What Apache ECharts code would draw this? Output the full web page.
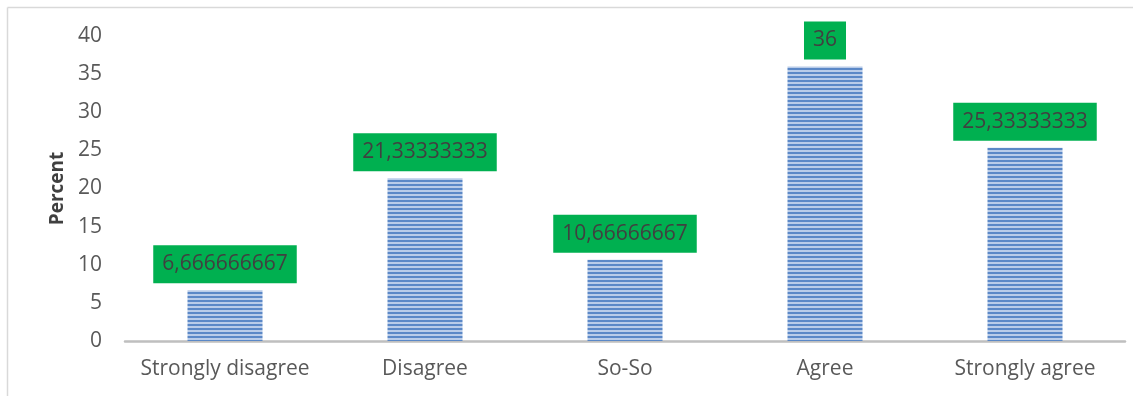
<!DOCTYPE html>
<html>
<head>
<meta charset="utf-8">
<script src="https://cdn.jsdelivr.net/npm/echarts@6/dist/echarts.min.js"></script>
<style>
  html, body { margin: 0; padding: 0; background: #ffffff; }
  #chart { width: 1143px; height: 396px; }
</style>
</head>
<body>
<div id="chart"></div>
<script>
// Survey responses (percent of respondents)
const categories = ['Strongly disagree', 'Disagree', 'So-So', 'Agree', 'Strongly agree'];
const percentValues = [6.666666667, 21.33333333, 10.66666667, 36, 25.33333333];
const yTicks = { min: 0, max: 40, interval: 5 };

// Horizontal stripe fill for the bars
function stripePattern() {
  const c = document.createElement('canvas');
  c.width = 8;
  c.height = 4;
  const ctx = c.getContext('2d');
  ctx.fillStyle = '#b9cce9';
  ctx.fillRect(0, 0, 8, 4);
  ctx.fillStyle = '#5b88c7';
  ctx.fillRect(0, 0, 8, 2);
  return c;
}

const FONT = '"Open Sans", "Noto Sans", sans-serif';
const chart = echarts.init(document.getElementById('chart'), null, { renderer: 'canvas' });

chart.setOption({
  animation: false,
  backgroundColor: '#ffffff',
  grid: { left: 125, right: 18, top: 36, bottom: 55, containLabel: false },
  graphic: [
    { type: 'line', shape: { x1: 7.5, y1: 7.5, x2: 1133, y2: 7.5 }, style: { stroke: '#d9d9d9', lineWidth: 1.5 } },
    { type: 'line', shape: { x1: 7.5, y1: 7.5, x2: 7.5, y2: 396 }, style: { stroke: '#d9d9d9', lineWidth: 1.5 } }
  ],
  xAxis: {
    type: 'category',
    data: categories,
    axisLine: { show: true, lineStyle: { color: '#bfbfbf', width: 2.5 } },
    axisTick: { show: false },
    axisLabel: { interval: 0, hideOverlap: false, color: '#595959', fontFamily: FONT, fontSize: 21, margin: 18 }
  },
  yAxis: {
    type: 'value',
    min: yTicks.min,
    max: yTicks.max,
    interval: yTicks.interval,
    name: 'Percent',
    nameLocation: 'middle',
    nameRotate: 90,
    nameGap: 57,
    nameTextStyle: { color: '#404040', fontFamily: FONT, fontSize: 19, fontWeight: 'bold' },
    axisLine: { show: false },
    axisTick: { show: false },
    splitLine: { show: false },
    axisLabel: { color: '#595959', fontFamily: FONT, fontSize: 21, margin: 23 }
  },
  series: [{
    type: 'bar',
    data: percentValues,
    barWidth: 75,
    itemStyle: { color: { image: stripePattern(), repeat: 'repeat' } },
    label: {
      show: true,
      position: 'top',
      distance: 7,
      formatter: p => String(p.value).replace('.', ','),
      color: '#404040',
      fontFamily: FONT,
      fontSize: 21,
      lineHeight: 22,
      backgroundColor: '#00b050',
      padding: [8, 9, 8, 9]
    }
  }]
});
</script>
</body>
</html>
